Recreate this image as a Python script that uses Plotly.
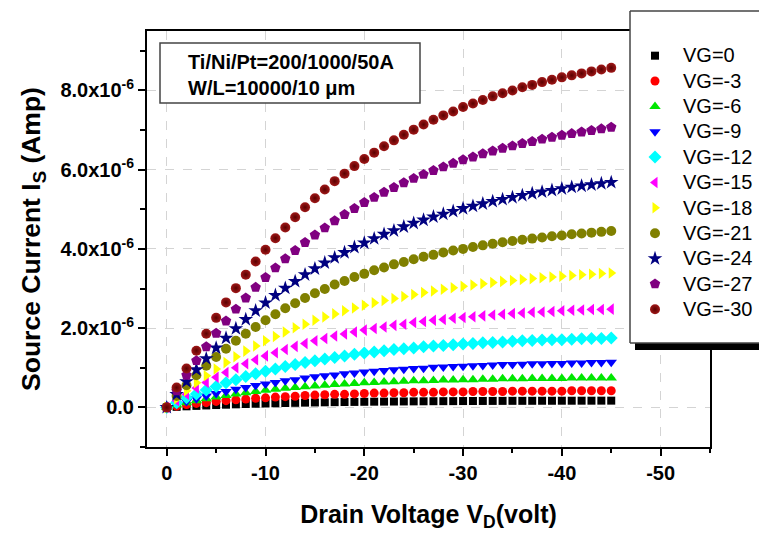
import plotly.graph_objects as go

# Drain voltage (V)
drain_voltage = [0, -1, -2, -3, -4, -5, -6, -7, -8, -9, -10, -11, -12, -13, -14, -15,
                 -16, -17, -18, -19, -20, -21, -22, -23, -24, -25, -26, -27, -28, -29, -30,
                 -31, -32, -33, -34, -35, -36, -37, -38, -39, -40, -41, -42, -43, -44, -45]

# Source current in units of 1e-6 A
i_vg0 = [0, 0.014, 0.027, 0.038, 0.049, 0.059, 0.068, 0.077, 0.085, 0.092, 0.098, 0.104, 0.110, 0.115,
         0.120, 0.124, 0.128, 0.132, 0.135, 0.138, 0.141, 0.144, 0.146, 0.148, 0.150, 0.152, 0.154,
         0.156, 0.157, 0.158, 0.160, 0.161, 0.162, 0.163, 0.164, 0.165, 0.165, 0.166, 0.167, 0.167,
         0.168, 0.168, 0.169, 0.169, 0.170, 0.170]
i_vg3 = [0, 0.03, 0.07, 0.10, 0.12, 0.15, 0.17, 0.19, 0.21, 0.23, 0.24, 0.26, 0.27, 0.28, 0.30, 0.31,
         0.32, 0.33, 0.33, 0.34, 0.35, 0.36, 0.36, 0.37, 0.37, 0.38, 0.38, 0.38, 0.39, 0.39, 0.39, 0.40,
         0.40, 0.40, 0.40, 0.41, 0.41, 0.41, 0.41, 0.41, 0.41, 0.42, 0.42, 0.42, 0.42, 0.42]
i_vg6 = [0, 0.06, 0.12, 0.17, 0.22, 0.26, 0.30, 0.34, 0.37, 0.40, 0.43, 0.46, 0.48, 0.50, 0.52, 0.54,
         0.56, 0.58, 0.59, 0.60, 0.62, 0.63, 0.64, 0.65, 0.66, 0.67, 0.67, 0.68, 0.69, 0.69, 0.70, 0.70,
         0.71, 0.71, 0.72, 0.72, 0.72, 0.73, 0.73, 0.73, 0.73, 0.74, 0.74, 0.74, 0.74, 0.74]
i_vg9 = [0, 0.08, 0.15, 0.22, 0.29, 0.35, 0.40, 0.46, 0.50, 0.55, 0.59, 0.63, 0.67, 0.70, 0.74, 0.77,
         0.80, 0.82, 0.85, 0.87, 0.89, 0.91, 0.93, 0.95, 0.96, 0.98, 0.99, 1.01, 1.02, 1.03, 1.04, 1.05,
         1.06, 1.07, 1.08, 1.08, 1.09, 1.10, 1.10, 1.11, 1.11, 1.12, 1.12, 1.13, 1.13, 1.14]
i_vg12 = [0, 0.12, 0.24, 0.34, 0.44, 0.53, 0.62, 0.70, 0.78, 0.85, 0.91, 0.97, 1.03, 1.08, 1.13, 1.18,
          1.22, 1.26, 1.30, 1.34, 1.37, 1.40, 1.43, 1.46, 1.48, 1.50, 1.53, 1.55, 1.56, 1.58, 1.60, 1.61,
          1.63, 1.64, 1.65, 1.67, 1.68, 1.69, 1.70, 1.71, 1.71, 1.72, 1.73, 1.74, 1.74, 1.75]
i_vg15 = [0, 0.17, 0.33, 0.49, 0.63, 0.76, 0.88, 1.00, 1.10, 1.20, 1.30, 1.38, 1.46, 1.54, 1.61, 1.68,
          1.74, 1.80, 1.85, 1.90, 1.95, 1.99, 2.03, 2.07, 2.10, 2.14, 2.17, 2.20, 2.22, 2.25, 2.27, 2.29,
          2.31, 2.33, 2.35, 2.37, 2.38, 2.40, 2.41, 2.42, 2.44, 2.45, 2.46, 2.47, 2.47, 2.48]
i_vg18 = [0, 0.22, 0.42, 0.62, 0.80, 0.97, 1.13, 1.28, 1.42, 1.55, 1.68, 1.79, 1.90, 2.01, 2.10, 2.20,
          2.28, 2.36, 2.44, 2.51, 2.58, 2.64, 2.70, 2.75, 2.80, 2.85, 2.90, 2.94, 2.98, 3.02, 3.06, 3.09,
          3.12, 3.15, 3.18, 3.20, 3.23, 3.25, 3.27, 3.29, 3.31, 3.33, 3.35, 3.36, 3.38, 3.39]
i_vg21 = [0, 0.29, 0.56, 0.81, 1.05, 1.27, 1.48, 1.68, 1.86, 2.03, 2.20, 2.35, 2.50, 2.63, 2.76, 2.88,
          2.99, 3.10, 3.19, 3.29, 3.37, 3.46, 3.53, 3.61, 3.67, 3.74, 3.80, 3.85, 3.91, 3.96, 4.00, 4.05,
          4.09, 4.13, 4.17, 4.20, 4.23, 4.26, 4.29, 4.32, 4.34, 4.37, 4.39, 4.41, 4.43, 4.45]
i_vg24 = [0, 0.33, 0.65, 0.95, 1.23, 1.50, 1.75, 1.99, 2.22, 2.44, 2.64, 2.83, 3.01, 3.18, 3.35, 3.50,
          3.65, 3.78, 3.91, 4.04, 4.15, 4.26, 4.37, 4.46, 4.56, 4.65, 4.73, 4.81, 4.88, 4.95, 5.02, 5.08,
          5.14, 5.20, 5.25, 5.30, 5.35, 5.40, 5.44, 5.48, 5.52, 5.56, 5.59, 5.62, 5.65, 5.68]
i_vg27 = [0, 0.42, 0.81, 1.18, 1.53, 1.87, 2.18, 2.48, 2.76, 3.03, 3.28, 3.52, 3.75, 3.96, 4.16, 4.35,
          4.53, 4.71, 4.87, 5.02, 5.17, 5.30, 5.43, 5.55, 5.67, 5.78, 5.88, 5.98, 6.07, 6.16, 6.25, 6.32,
          6.40, 6.47, 6.54, 6.60, 6.66, 6.71, 6.77, 6.82, 6.87, 6.91, 6.95, 6.99, 7.03, 7.07]
i_vg30 = [0, 0.50, 0.98, 1.43, 1.86, 2.26, 2.65, 3.01, 3.35, 3.68, 3.98, 4.27, 4.54, 4.80, 5.05, 5.28,
          5.50, 5.71, 5.90, 6.09, 6.27, 6.43, 6.59, 6.74, 6.88, 7.01, 7.14, 7.26, 7.37, 7.47, 7.58, 7.67,
          7.76, 7.85, 7.93, 8.00, 8.08, 8.14, 8.21, 8.27, 8.33, 8.38, 8.43, 8.48, 8.53, 8.57]

series_names = ["VG=0", "VG=-3", "VG=-6", "VG=-9", "VG=-12", "VG=-15",
                "VG=-18", "VG=-21", "VG=-24", "VG=-27", "VG=-30"]
series_values = [i_vg0, i_vg3, i_vg6, i_vg9, i_vg12, i_vg15, i_vg18, i_vg21, i_vg24, i_vg27, i_vg30]
symbols = ["square", "circle", "triangle-up", "triangle-down", "diamond", "triangle-left",
           "triangle-right", "circle", "star", "pentagon", "circle"]
colors = ["#000000", "#ff0000", "#00e600", "#0000ff", "#00ffff", "#ff00ff",
          "#ffff00", "#808000", "#000080", "#800080", "#a01818"]
sizes = [8, 9, 10, 10, 10, 10, 10, 10, 11, 11, 10]

x_tick_vals = [0, -10, -20, -30, -40, -50]
x_tick_text = ["0", "-10", "-20", "-30", "-40", "-50"]
y_tick_vals = [0, 2, 4, 6, 8]
y_tick_text = ["0.0", "2.0x10<sup>-6</sup>", "4.0x10<sup>-6</sup>",
               "6.0x10<sup>-6</sup>", "8.0x10<sup>-6</sup>"]

FONT = "Liberation Sans, Arial, sans-serif"
W, H = 759, 536
L, R, T, B = 147, 710, 31, 447


def px(xp):
    return (xp - L) / (R - L)


def py(yp):
    return (B - yp) / (B - T)


fig = go.Figure()
for name, vals, sym, col, sz in zip(series_names, series_values, symbols, colors, sizes):
    marker = dict(symbol=sym, color=col, size=sz, line=dict(width=0))
    if name == "VG=-30":
        marker["gradient"] = dict(type="radial", color="#5a0000")
    fig.add_trace(go.Scatter(
        x=drain_voltage, y=vals, mode="markers",
        name="<span style='font-size:20px'>" + name + "</span>",
        marker=marker))

axis_common = dict(
    showline=True, linecolor="black", linewidth=2, mirror=True,
    ticks="outside", ticklen=7, tickwidth=2, tickcolor="black",
    showgrid=True, gridcolor="#d4d4d4", griddash="dash", gridwidth=1,
    zeroline=False,
    tickfont=dict(family=FONT, size=20, color="black", weight="bold"),
)

fig.update_xaxes(
    range=[2, -55], tickmode="array", tickvals=x_tick_vals, ticktext=x_tick_text,
    minor=dict(ticks="outside", dtick=5, tick0=0, ticklen=4, tickwidth=2, tickcolor="black", showgrid=False),
    title=dict(text="Drain Voltage V<sub>D</sub>(volt)",
               font=dict(family=FONT, size=25, color="black", weight="bold"), standoff=22),
    **axis_common,
)
fig.update_yaxes(
    range=[-1, 9.5], tickmode="array", tickvals=y_tick_vals, ticktext=y_tick_text,
    minor=dict(ticks="outside", dtick=1, tick0=0, ticklen=5, tickwidth=2, tickcolor="black", showgrid=False),
    title=dict(text="Source Current I<sub>S</sub> (Amp)",
               font=dict(family=FONT, size=26.5, color="black", weight="bold"), standoff=12),
    **axis_common,
)

BOX_COLOR = "#444444"
shapes = [
    # annotation box
    dict(type="rect", xref="paper", yref="paper", x0=px(160), x1=px(420), y0=py(103), y1=py(43),
         line=dict(color=BOX_COLOR, width=1.5), fillcolor="white", layer="above"),
    # legend shadow
    dict(type="rect", xref="paper", yref="paper", x0=px(635), x1=px(820), y0=py(350), y1=py(343),
         line=dict(width=0), fillcolor="black", layer="above"),
    # legend box (fill, then left / top / bottom edges; right edge runs off the figure)
    dict(type="rect", xref="paper", yref="paper", x0=px(630), x1=px(820), y0=py(343), y1=py(11),
         line=dict(width=0), fillcolor="white", layer="above"),
    dict(type="line", xref="paper", yref="paper", x0=px(630), x1=px(630), y0=py(343), y1=py(11),
         line=dict(color=BOX_COLOR, width=1.5), layer="above"),
    dict(type="line", xref="paper", yref="paper", x0=px(630), x1=px(820), y0=py(11), y1=py(11),
         line=dict(color=BOX_COLOR, width=1.5), layer="above"),
    dict(type="line", xref="paper", yref="paper", x0=px(630), x1=px(820), y0=py(343), y1=py(343),
         line=dict(color=BOX_COLOR, width=1.5), layer="above"),
]

annotations = [
    dict(xref="paper", yref="paper", x=px(186), y=py(62), xanchor="left", yanchor="middle",
         text="Ti/Ni/Pt=200/1000/50A", showarrow=False,
         font=dict(family=FONT, size=20, color="black", weight="bold")),
    dict(xref="paper", yref="paper", x=px(186), y=py(88), xanchor="left", yanchor="middle",
         text="W/L=10000/10 μm", showarrow=False,
         font=dict(family=FONT, size=20, color="black", weight="bold")),
]

fig.update_layout(
    width=W, height=H,
    margin=dict(l=L, r=W - R, t=T, b=H - B, autoexpand=False),
    paper_bgcolor="white", plot_bgcolor="white",
    shapes=shapes, annotations=annotations,
    showlegend=True,
    legend=dict(x=px(627), y=py(38), xanchor="left", yanchor="top",
                bgcolor="rgba(0,0,0,0)", borderwidth=0, itemwidth=46,
                font=dict(family=FONT, size=17.2, color="black"),
                tracegroupgap=0),
    font=dict(family=FONT, color="black"),
)

fig.write_html("out.html")
